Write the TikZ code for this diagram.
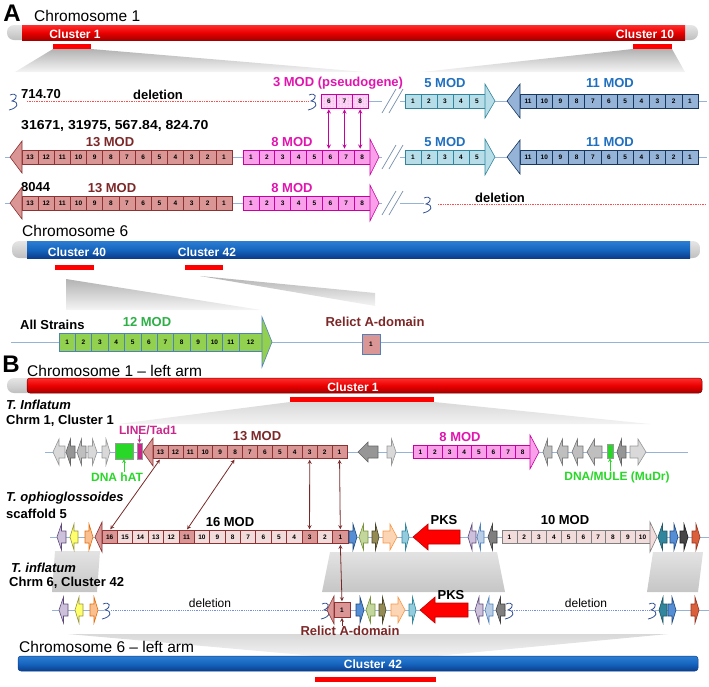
\documentclass[tikz,border=0pt]{standalone}
\usepackage{fontspec}
\setmainfont{Liberation Sans}
\usetikzlibrary{patterns}

% chromosome colours
\definecolor{chrred}{RGB}{235,0,0}
\definecolor{chrredlt}{RGB}{255,45,45}
\definecolor{chrreddk}{RGB}{165,0,0}
\definecolor{chrblue}{RGB}{22,102,192}
\definecolor{chrbluelt}{RGB}{45,125,210}
\definecolor{chrbluedk}{RGB}{12,62,140}
\definecolor{bbline}{RGB}{149,179,215}
\definecolor{squigblue}{RGB}{50,80,150}
% module colours
\definecolor{modbrown}{RGB}{217,150,148}
\definecolor{modbrowndk}{RGB}{140,50,50}
\definecolor{modpale}{RGB}{242,220,219}
\definecolor{modgraydk}{RGB}{127,127,127}
\definecolor{txtbrown}{RGB}{125,40,40}
\definecolor{modpink}{RGB}{250,160,235}
\definecolor{modpinkdk}{RGB}{200,0,160}
\definecolor{txtpink}{RGB}{225,20,175}
\definecolor{modcyan}{RGB}{183,222,232}
\definecolor{modcyandk}{RGB}{49,133,156}
\definecolor{modsteel}{RGB}{149,179,215}
\definecolor{modsteeldk}{RGB}{23,55,94}
\definecolor{txtblue}{RGB}{31,111,192}
\definecolor{modgreen}{RGB}{146,208,80}
\definecolor{modgreendk}{RGB}{79,129,189}
\definecolor{txtgreen}{RGB}{45,175,70}
\definecolor{tegreen}{RGB}{40,215,40}
\definecolor{temag}{RGB}{200,40,140}
\definecolor{arrbrown}{RGB}{120,40,40}
% gene colours
\definecolor{glav}{RGB}{204,192,218}\definecolor{glavd}{RGB}{95,73,122}
\definecolor{gyel}{RGB}{255,255,110}\definecolor{gyeld}{RGB}{150,150,60}
\definecolor{gorg}{RGB}{250,192,144}\definecolor{gorgd}{RGB}{228,108,10}
\definecolor{gblu}{RGB}{85,142,213}\definecolor{gblud}{RGB}{31,73,125}
\definecolor{ggrn}{RGB}{195,214,155}\definecolor{ggrnd}{RGB}{119,147,60}
\definecolor{golv}{RGB}{148,138,84}\definecolor{golvd}{RGB}{73,68,41}
\definecolor{gorl}{RGB}{252,213,181}\definecolor{gorld}{RGB}{247,150,70}
\definecolor{gtea}{RGB}{147,205,221}\definecolor{gtead}{RGB}{49,133,156}
\definecolor{glbl}{RGB}{185,205,229}\definecolor{glbld}{RGB}{79,129,189}
\definecolor{gdgr}{RGB}{127,127,127}\definecolor{gdgrd}{RGB}{64,64,64}
\definecolor{gtdk}{RGB}{49,133,156}\definecolor{gtdkd}{RGB}{33,89,104}
\definecolor{gblk}{RGB}{70,70,70}\definecolor{gblkd}{RGB}{30,30,30}
\definecolor{grdo}{RGB}{217,96,59}\definecolor{grdod}{RGB}{150,50,30}
\definecolor{ggr1}{RGB}{217,217,217}\definecolor{ggr1d}{RGB}{150,150,150}
\definecolor{ggr2}{RGB}{191,191,191}\definecolor{ggr2d}{RGB}{120,120,120}
\definecolor{ggr3}{RGB}{150,150,150}\definecolor{ggr3d}{RGB}{100,100,100}
\definecolor{gpks}{RGB}{255,0,0}\definecolor{gpksd}{RGB}{192,0,0}

\tikzset{
  bb/.style={draw=bbline, line width=0.8pt},
  deldot/.style={draw=red!70, densely dotted, line width=0.7pt},
  delblue/.style={draw=bbline!80!blue, densely dotted, line width=0.8pt},
  squig/.style={draw=squigblue, line width=0.8pt},
  slash/.style={draw=bbline!80!black, line width=0.7pt},
  redshade/.style={top color=chrredlt, bottom color=chrreddk, middle color=chrred},
  blueshade/.style={top color=chrbluelt, bottom color=chrbluedk, middle color=chrblue},
  capshade/.style={top color=gray!20, bottom color=gray!50},
  fan/.style={top color=gray!60, bottom color=gray!8},
  fanlt/.style={top color=gray!30, bottom color=gray!10},
  fanmid/.style={top color=gray!22, bottom color=gray!45},
  paneltxt/.style={font=\bfseries\fontsize{24}{26}\selectfont},
  chrtxt/.style={font=\fontsize{15.5}{17}\selectfont, anchor=west, inner sep=0pt},
  cltxt/.style={font=\bfseries\fontsize{12}{13}\selectfont, text=white, inner sep=0pt},
  modlbl/.style={font=\bfseries\fontsize{13}{14}\selectfont, inner sep=0pt},
  strain/.style={font=\bfseries\fontsize{13}{14}\selectfont, anchor=west, inner sep=0pt},
  strainit/.style={strain, font=\bfseries\itshape\fontsize{13}{14}\selectfont},
  deltxt/.style={font=\fontsize{12}{13}\selectfont, inner sep=0pt},
  tetxt/.style={font=\bfseries\fontsize{12}{13}\selectfont, inner sep=0pt},
  tebox/.style={draw=black!40, line width=0.4pt, inner sep=0pt},
  tearr/.style={-stealth, line width=0.7pt},
  mbox/.style={draw, inner sep=0pt, minimum height=14pt, line width=0.6pt,
    font=\bfseries\fontsize{6.5}{7}\selectfont},
  mboxb/.style={mbox, minimum height=13pt},
  m13/.style={fill=modbrown, draw=modbrowndk, line width=0.6pt},
  m8/.style={fill=modpink, draw=modpinkdk, line width=0.6pt},
  m5/.style={fill=modcyan, draw=modcyandk, line width=0.6pt},
  m11/.style={fill=modsteel, draw=modsteeldk, line width=0.6pt},
  m12/.style={fill=modgreen, draw=modgreendk, line width=0.6pt},
  m10/.style={fill=modpale, draw=modgraydk, line width=0.6pt},
  pseudo/.style={mbox, draw=modpinkdk, preaction={fill=modpink!45},
    pattern=dots, pattern color=modpinkdk!45},
  pinkarr/.style={stealth-stealth, draw=modpinkdk, line width=0.9pt,
    shorten <=1pt, shorten >=1pt},
  brarr/.style={stealth-stealth, draw=arrbrown, line width=0.8pt,
    shorten <=1pt, shorten >=1pt}
}

% numbered domain boxes: name, x-left, x-right, y, first, last, dir, style
\newcommand{\modboxes}[8]{%
  \pgfmathsetmacro\bw{(#3-#2)/(#6-#5+1)}%
  \foreach \i in {#5,...,#6}{%
    \pgfmathsetmacro\cx{#7>0 ? #2+(\i-#5+0.5)*\bw : #3-(\i-#5+0.5)*\bw}%
    \node[#8, minimum width=\bw pt] (#1-\i) at (\cx,#4) {\i};
  }}
% arrow head of a module: x, y, length (signed), half height, style
\newcommand{\modhead}[5]{%
  \filldraw[#5] (#1,{#2-#4}) -- ({#1+(#3)},#2) -- (#1,{#2+#4}) -- cycle;}
% gene arrow: x1, x2, y, dir, fill, draw, head length, body half, head half
\newcommand{\genearrow}[9]{%
  \pgfmathsetmacro\gnx{#4>0 ? #2-#7 : #1+#7}%
  \pgfmathsetmacro\gnt{#4>0 ? #2 : #1}%
  \pgfmathsetmacro\gnb{#4>0 ? #1 : #2}%
  \filldraw[fill=#5, draw=#6, line width=0.6pt]
    (\gnb,{#3-#8}) -- (\gnx,{#3-#8}) -- (\gnx,{#3-#9}) -- (\gnt,#3)
    -- (\gnx,{#3+#9}) -- (\gnx,{#3+#8}) -- (\gnb,{#3+#8}) -- cycle;}
\newcommand{\gene}[6]{%
  \pgfmathsetmacro\ghl{min(0.5*(#2-#1),8)}%
  \genearrow{#1}{#2}{#3}{#4}{#5}{#6}{\ghl}{6}{13}}
% broken end of a sequence
\newcommand{\squig}[2]{%
  \draw[squig] (#1,{#2-6}) .. controls ({#1+7},{#2-9}) and ({#1+9},{#2-3}) .. ({#1+2},#2)
    .. controls ({#1+10},{#2+1}) and ({#1+8},{#2+7}) .. ({#1-1},{#2+9});}

\begin{document}
\begin{tikzpicture}[x=1pt,y=-1pt]
  \useasboundingbox (0,0) rectangle (709,686);

  %%%%%%%%%%%%%%%% Panel A
  \node[paneltxt] (pA) at (12,13) {A};
  \node[chrtxt] (chr1a) at (34,16) {Chromosome 1};

  % Chromosome 1
  \shade[capshade, rounded corners=7] (7,25) rectangle (698,40);
  \shade[redshade] (22,25) rectangle (685,40);
  \node[cltxt] (cl1a) at (75,34) {Cluster 1};
  \node[cltxt] (cl10a) at (645,34) {Cluster 10};
  \fill[red] (53,44) rectangle (91,49);
  \fill[red] (633,44) rectangle (672,49);
  \shade[fan] (53,49) -- (91,49) -- (365,72) -- (15,72) -- cycle;
  \shade[fan] (633,49) -- (672,49) -- (685,72) -- (422,72) -- cycle;

  % Row 1: 714.70
  \draw[bb] (368,101) -- (382,101);
  \draw[bb] (400,101) -- (707,101);
  \draw[deldot] (27,101) -- (308,101);
  \squig{10}{101}
  \squig{309}{101}
  \node[strain] (str1) at (21,94) {714.70};
  \node[modlbl] (del1) at (158,95) {deletion};
  \node[modlbl, text=txtpink] (lbl3) at (338,83) {3 MOD (pseudogene)};
  \modboxes{ps}{321}{368}{101}{6}{8}{1}{pseudo}
  \draw[slash] (382,113) -- (396,89) (389,113) -- (403,89);
  \modboxes{c5a}{405}{485}{101}{1}{5}{1}{mbox,m5}
  \modhead{485}{101}{10}{17}{m5}
  \node[modlbl, text=txtblue] (lbl5a) at (445,83) {5 MOD};
  \modboxes{s11a}{520}{698}{101}{1}{11}{-1}{mbox,m11}
  \modhead{520}{101}{-13}{17}{m11}
  \node[modlbl, text=txtblue] (lbl11a) at (610,83) {11 MOD};

  % Row 2: 31671 ...
  \draw[bb] (5,157) -- (382,157);
  \draw[bb] (400,157) -- (707,157);
  \node[strain, xscale=1.08] (str2) at (21,126) {31671, 31975, 567.84, 824.70};
  \modboxes{m13a}{22}{232}{157}{1}{13}{-1}{mbox,m13}
  \modhead{22}{157}{-12}{16}{m13}
  \node[modlbl, text=txtbrown] (lbl13a) at (110,142) {13 MOD};
  \modboxes{m8a}{243}{370}{157}{1}{8}{1}{mbox,m8}
  \modhead{370}{157}{9}{18}{m8}
  \node[modlbl, text=txtpink] (lbl8a) at (292,142) {8 MOD};
  \draw[slash] (382,169) -- (396,145) (389,169) -- (403,145);
  \modboxes{c5b}{405}{485}{157}{1}{5}{1}{mbox,m5}
  \modhead{485}{157}{10}{18}{m5}
  \node[modlbl, text=txtblue] (lbl5b) at (445,142) {5 MOD};
  \modboxes{s11b}{520}{698}{157}{1}{11}{-1}{mbox,m11}
  \modhead{520}{157}{-13}{17}{m11}
  \node[modlbl, text=txtblue] (lbl11b) at (610,142) {11 MOD};

  % pseudogene links
  \foreach \k in {6,7,8}
    \draw[pinkarr] (ps-\k.south) -- (ps-\k.south |- m8a-\k.north);

  % Row 3: 8044
  \draw[bb] (5,203) -- (382,203);
  \draw[bb] (400,203) -- (424,203);
  \squig{424}{204}
  \draw[deldot] (438,204) -- (706,204);
  \node[strain] (str3) at (21,187) {8044};
  \modboxes{m13b}{22}{232}{203}{1}{13}{-1}{mbox,m13}
  \modhead{22}{203}{-12}{16}{m13}
  \node[modlbl, text=txtbrown] (lbl13b) at (112,188) {13 MOD};
  \modboxes{m8b}{243}{370}{203}{1}{8}{1}{mbox,m8}
  \modhead{370}{203}{9}{18}{m8}
  \node[modlbl, text=txtpink] (lbl8b) at (292,188) {8 MOD};
  \draw[slash] (382,215) -- (396,191) (389,215) -- (403,191);
  \node[modlbl] (del2) at (500,198) {deletion};

  % Chromosome 6
  \node[chrtxt] (chr6a) at (22,231) {Chromosome 6};
  \shade[capshade, rounded corners=7] (12,241) rectangle (700,258);
  \shade[blueshade] (27,241) rectangle (690,258);
  \node[cltxt] (cl40) at (77,252) {Cluster 40};
  \node[cltxt] (cl42a) at (207,252) {Cluster 42};
  \fill[red] (55,265) rectangle (94,270);
  \fill[red] (185,265) rectangle (223,270);
  \shade[fan] (66,279) -- (261,310) -- (66,310) -- cycle;
  \shade[fan] (200,276) -- (375,293) -- (375,306) -- cycle;

  % 12 MOD, all strains
  \draw[bb] (11,342) -- (709,342);
  \node[strain] (allstr) at (20,325) {All Strains};
  \modboxes{g12}{59}{239}{342}{1}{11}{1}{mbox,m12,minimum height=18pt}
  \node[mbox, m12, minimum height=18pt, minimum width=23pt] (g12-12) at (250.5,342) {12};
  \modhead{262}{342}{10}{25}{m12}
  \node[modlbl, text=txtgreen] (lbl12) at (147,322) {12 MOD};
  \node[modlbl, text=txtbrown] (rlxa) at (375,322) {Relict A-domain};
  \node[mbox, fill=modbrown, draw=modgreendk, minimum width=18pt, minimum height=20pt] (ra-1) at (371,344) {1};

  %%%%%%%%%%%%%%%% Panel B
  \node[paneltxt] (pB) at (11,364) {B};
  \node[chrtxt] (chr1b) at (27,371) {Chromosome 1 -- left arm};

  % Chromosome 1, left arm
  \shade[capshade, rounded corners=7] (7,378) rectangle (40,393);
  \shade[redshade, rounded corners=3] (27,378) rectangle (702,393);
  \draw[chrreddk!70!black, rounded corners=3, line width=0.5pt] (27,378) rectangle (702,393);
  \node[cltxt] (cl1b) at (353,387) {Cluster 1};
  \fill[red] (290,397) rectangle (434,402);
  \shade[fanlt] (290,402) -- (434,402) -- (650,424) -- (118,424) -- cycle;
  \node[strainit] (tinf1) at (6,405) {T. Inflatum};
  \node[strain] (chrm1) at (6,421) {Chrm 1, Cluster 1};

  % Row B1: T. inflatum cluster 1
  \draw[bb] (45,452) -- (688,452);
  \gene{53}{65}{452}{-1}{ggr1}{ggr1d}
  \gene{66}{75}{452}{-1}{ggr3}{ggr3d}
  \gene{77}{86}{452}{-1}{ggr2}{ggr2d}
  \gene{88}{97}{452}{1}{ggr1}{ggr1d}
  \gene{102}{110}{452}{1}{ggr1}{ggr1d}
  \node[tebox, fill=tegreen, minimum width=18pt, minimum height=16pt] (hatbox) at (124,451) {};
  \node[tebox, fill=temag, minimum width=5pt, minimum height=16pt] (tadbox) at (139.5,451) {};
  \node[tetxt, text=tegreen] (hat) at (117,477) {DNA hAT};
  \node[tetxt, text=temag] (tad) at (148,430) {LINE/Tad1};
  \draw[tearr, draw=tegreen] (hatbox.south |- hat.north) -- (hatbox.south);
  \draw[tearr, draw=temag] (tadbox.north |- tad.south) -- (tadbox.north);
  \modboxes{b13}{153}{347}{452}{1}{13}{-1}{mboxb,m13}
  \modhead{153}{452}{-10}{14}{m13}
  \node[modlbl, text=txtbrown] (lbl13c) at (257,436) {13 MOD};
  \genearrow{358}{378}{452}{-1}{ggr3}{ggr3d}{10}{6}{10}
  \gene{387}{396}{452}{1}{ggr1}{ggr1d}
  \modboxes{b8}{413}{530}{452}{1}{8}{1}{mboxb,m8}
  \modhead{530}{452}{9}{17}{m8}
  \node[modlbl, text=txtpink] (lbl8c) at (460,437) {8 MOD};
  \gene{543}{552}{452}{-1}{ggr2}{ggr2d}
  \gene{557}{568}{452}{-1}{ggr2}{ggr2d}
  \gene{572}{583}{452}{-1}{ggr2}{ggr2d}
  \gene{587}{602}{452}{-1}{ggr2}{ggr2d}
  \node[tebox, fill=tegreen, minimum width=6pt, minimum height=14pt] (mulebox) at (610,451) {};
  \gene{617}{626}{452}{-1}{ggr3}{ggr3d}
  \gene{630}{646}{452}{1}{ggr1}{ggr1d}
  \node[tetxt, text=tegreen] (mule) at (617,477) {DNA/MULE (MuDr)};
  \draw[tearr, draw=tegreen] (mulebox.south |- mule.north) -- (mulebox.south);

  % Row B2: T. ophioglossoides scaffold 5
  \node[strainit] (toph) at (6,498) {T. ophioglossoides};
  \node[strain] (scf5) at (6,514) {scaffold 5};
  \shade[fanmid] (55,551) -- (100,551) -- (97,592) -- (52,592) -- cycle;
  \shade[fanmid] (330,552) -- (497,552) -- (505,592) -- (322,592) -- cycle;
  \shade[fanmid] (653,552) -- (703,552) -- (698,592) -- (647,592) -- cycle;
  \draw[bb] (50,537) -- (709,537);
  \gene{57}{66}{537}{-1}{glav}{glavd}
  \gene{70}{78}{537}{-1}{gyel}{gyeld}
  \gene{85}{93}{537}{1}{gorg}{gorgd}
  \pgfmathsetmacro\bw{(348-102)/16}
  \foreach \i in {1,...,16}{
    \pgfmathtruncatemacro\dk{(\i==1)+(\i==3)+(\i==11)+(\i==16)}
    \ifnum\dk=1 \def\bc{modbrown}\else\def\bc{modpale}\fi
    \node[mboxb, fill=\bc, draw=modbrowndk, minimum width=\bw pt] (b16-\i) at ({348-(\i-0.5)*\bw},537) {\i};
  }
  \modhead{102}{537}{-7}{15}{m13}
  \node[modlbl] (lbl16) at (230,522) {16 MOD};
  \gene{349}{357}{537}{1}{gblu}{gblud}
  \gene{359}{368}{537}{-1}{ggrn}{ggrnd}
  \gene{372}{379}{537}{1}{golv}{golvd}
  \gene{383}{397}{537}{1}{gorl}{gorld}
  \gene{402}{409}{537}{1}{gtea}{gtead}
  \genearrow{413}{460}{537}{-1}{gpks}{gpksd}{15}{7}{13}
  \node[modlbl] (pks1) at (444,520) {PKS};
  \gene{468}{476}{537}{-1}{glav}{glavd}
  \gene{477}{484}{537}{-1}{glbl}{glbld}
  \gene{488}{497}{537}{-1}{gdgr}{gdgrd}
  \modboxes{t10}{502}{650}{537}{1}{10}{1}{mboxb,m10}
  \modhead{650}{537}{7}{15}{m10}
  \node[modlbl] (lbl10) at (565,520) {10 MOD};
  \gene{658}{667}{537}{-1}{gtdk}{gtdkd}
  \gene{670}{678}{537}{1}{gblu}{gblud}
  \gene{680}{688}{537}{1}{gblk}{gblkd}
  \gene{692}{700}{537}{1}{grdo}{grdod}

  % module links
  \draw[brarr] (b13-13.south) -- (b16-16.north);
  \draw[brarr] (b13-8.south) -- (b16-11.north);
  \draw[brarr] (b13-3.south) -- (b16-3.north);
  \draw[brarr] (b13-1.south) -- (b16-1.north);

  % Row B3: T. inflatum cluster 42
  \node[strainit] (tinf6) at (11,568) {T. inflatum};
  \node[strain] (chrm6) at (9,583) {Chrm 6, Cluster 42};
  \shade[fanlt] (68,634) -- (668,634) -- (436,656) -- (315,656) -- cycle;
  \draw[bb] (52,610) -- (104,610);
  \draw[bb] (330,610) -- (506,610);
  \draw[bb] (655,610) -- (709,610);
  \draw[delblue] (111,610) -- (322,610);
  \draw[delblue] (512,610) -- (649,610);
  \gene{59}{68}{610}{-1}{glav}{glavd}
  \gene{75}{83}{610}{-1}{gyel}{gyeld}
  \gene{90}{98}{610}{1}{gorg}{gorgd}
  \squig{103}{610}
  \node[deltxt] (del3) at (210,603) {deletion};
  \squig{322}{610}
  \modhead{334}{610}{-7}{14}{m13}
  \node[mboxb, m13, minimum width=16pt, minimum height=15pt] (rb-1) at (342,610) {1};
  \draw[brarr] (b16-1.south) -- (rb-1.north);
  \node[modlbl, text=txtbrown] (rlxb) at (350,631) {Relict A-domain};
  \draw[-stealth, draw=arrbrown, line width=0.8pt] (rb-1.south |- rlxb.north) -- (rb-1.south);
  \gene{356}{364}{610}{1}{gblu}{gblud}
  \gene{366}{375}{610}{-1}{ggrn}{ggrnd}
  \gene{379}{386}{610}{1}{golv}{golvd}
  \gene{391}{405}{610}{1}{gorl}{gorld}
  \gene{409}{416}{610}{1}{gtea}{gtead}
  \genearrow{420}{468}{610}{-1}{gpks}{gpksd}{15}{7}{13}
  \node[modlbl] (pks2) at (451,595) {PKS};
  \gene{475}{483}{610}{-1}{glav}{glavd}
  \gene{485}{493}{610}{-1}{glbl}{glbld}
  \gene{496}{505}{610}{-1}{gdgr}{gdgrd}
  \squig{506}{610}
  \node[deltxt] (del4) at (586,603) {deletion};
  \squig{649}{610}
  \gene{659}{667}{610}{-1}{gtdk}{gtdkd}
  \gene{668}{676}{610}{1}{gblu}{gblud}
  \gene{691}{699}{610}{1}{grdo}{grdod}

  % Chromosome 6, left arm
  \node[chrtxt] (chr6b) at (19,647) {Chromosome 6 -- left arm};
  \shade[blueshade, rounded corners=3] (18,656) rectangle (698,671);
  \draw[chrbluedk, rounded corners=3, line width=0.5pt] (18,656) rectangle (698,671);
  \node[cltxt] (cl42b) at (373,664) {Cluster 42};
  \fill[red] (315,677) rectangle (436,682);
\end{tikzpicture}
\end{document}
